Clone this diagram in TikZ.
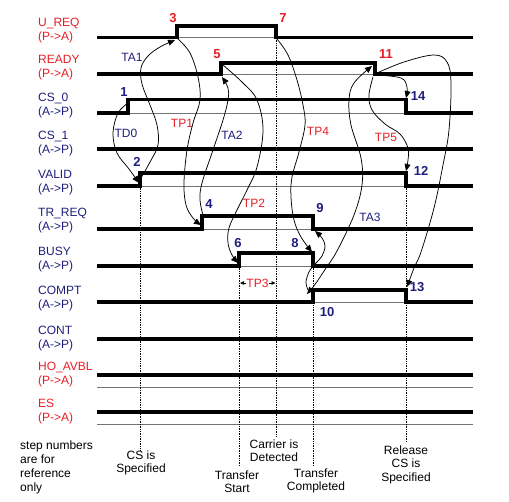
\documentclass[tikz,border=0pt]{standalone}
\usepackage{fontspec}
\setmainfont{Liberation Sans}
\usetikzlibrary{arrows.meta}
\definecolor{sigred}{RGB}{230,30,36}
\definecolor{navy}{RGB}{30,30,125}
\begin{document}
\begin{tikzpicture}[x=1pt,y=-1pt,
  sig/.style={line width=3.3pt, line join=miter, line cap=butt},
  base/.style={line width=0.9pt, black!55},
  guide/.style={line width=0.7pt, densely dotted},
  curve/.style={line width=0.75pt, -{Triangle[length=7pt,width=6pt]}},
  curvetwo/.style={line width=0.75pt, {Triangle[length=7pt,width=6pt]}-{Triangle[length=7pt,width=6pt]}},
  plain/.style={line width=0.75pt},
  small/.style={line width=0.6pt, -{Triangle[length=4pt,width=3.5pt]}},
  lbl/.style={font=\fontsize{12}{14}\selectfont, align=left, anchor=west, inner sep=0pt},
  pa/.style={lbl, text=sigred},
  ap/.style={lbl, text=navy},
  stepR/.style={font=\fontsize{13}{14}\selectfont\bfseries, text=sigred, inner sep=0pt},
  stepB/.style={font=\fontsize{13}{14}\selectfont\bfseries, text=navy, inner sep=0pt},
  tR/.style={font=\fontsize{12}{14}\selectfont, text=sigred, inner sep=0pt},
  tB/.style={font=\fontsize{12}{14}\selectfont, text=navy, inner sep=0pt},
  note/.style={font=\fontsize{12}{13.5}\selectfont, align=center, inner sep=0pt}
]
\useasboundingbox (0,0) rectangle (509,501);

% ---------- signal names ----------
\node[pa] (sUREQ) at (38,31) {U\_REQ\\(P->A)};
\node[pa] (sREADY) at (38,68) {READY\\(P->A)};
\node[ap] (sCS0) at (38,105.5) {CS\_0\\(A->P)};
\node[ap] (sCS1) at (38,144) {CS\_1\\(A->P)};
\node[ap] (sVALID) at (38,182.5) {VALID\\(A->P)};
\node[ap] (sTRREQ) at (38,220.5) {TR\_REQ\\(A->P)};
\node[ap] (sBUSY) at (38,260) {BUSY\\(A->P)};
\node[ap] (sCOMPT) at (38,299) {COMPT\\(A->P)};
\node[ap] (sCONT) at (38,338.5) {CONT\\(A->P)};
\node[pa] (sHO) at (38,374.5) {HO\_AVBL\\(P->A)};
\node[pa] (sES) at (38,412) {ES\\(P->A)};

% ---------- thin base lines inside pulses ----------
\draw[base] (177,37.5) -- (276,37.5);
\draw[base] (221,74) -- (375,74);
\draw[base] (128,113) -- (406,113);
\draw[base] (140,186) -- (406,186);
\draw[base] (202,229) -- (313,229);
\draw[base] (239,266) -- (313,266);
\draw[base] (313,302) -- (406,302);
\draw[base] (97,387) -- (473,387);
\draw[base] (97,424) -- (473,424);

% ---------- dotted guides ----------
\coordinate (g1a) at (140,186); \coordinate (g1b) at (140,451);
\coordinate (g2a) at (239,266); \coordinate (g2b) at (239,466);
\coordinate (g3a) at (276,38);  \coordinate (g3b) at (276,437);
\coordinate (g4a) at (313,266); \coordinate (g4b) at (313,465);
\coordinate (g5a) at (406,186); \coordinate (g5b) at (406,442);
\draw[guide] (g1a) -- (g1b);
\draw[guide] (g2a) -- (g2b);
\draw[guide] (g3a) -- (g3b);
\draw[guide] (g4a) -- (g4b);
\draw[guide] (g5a) -- (g5b);

% ---------- signal waveforms ----------
\draw[sig] (97,37.5) -- (177,37.5) -- (177,26) -- (276,26) -- (276,37.5) -- (473,37.5);
\draw[sig] (97,74) -- (221,74) -- (221,63) -- (375,63) -- (375,74) -- (473,74);
\draw[sig] (97,113) -- (128,113) -- (128,99.5) -- (406,99.5) -- (406,113) -- (473,113);
\draw[sig] (97,149) -- (473,149);
\draw[sig] (97,186) -- (140,186) -- (140,173) -- (406,173) -- (406,186) -- (473,186);
\draw[sig] (97,229) -- (202,229) -- (202,216) -- (313,216) -- (313,229) -- (473,229);
\draw[sig] (97,266) -- (239,266) -- (239,253) -- (313,253) -- (313,266) -- (473,266);
\draw[sig] (97,302) -- (313,302) -- (313,290) -- (406,290) -- (406,302) -- (473,302);
\draw[sig] (97,339) -- (473,339);
\draw[sig] (97,375) -- (473,375);
\draw[sig] (97,412) -- (473,412);

% ---------- step numbers ----------
\node[stepB] (n1) at (124,92) {1};
\node[stepB] (n2) at (137,162) {2};
\node[stepR] (n3) at (173,18) {3};
\node[stepB] (n4) at (209,204) {4};
\node[stepR] (n5) at (217,54) {5};
\node[stepB] (n6) at (238,243) {6};
\node[stepR] (n7) at (283,18) {7};
\node[stepB] (n8) at (295,243) {8};
\node[stepB] (n9) at (320,208) {9};
\node[stepB] (n10) at (327,312) {10};
\node[stepR] (n11) at (386,54) {11};
\node[stepB] (n12) at (421,171) {12};
\node[stepB] (n13) at (417,287) {13};
\node[stepB] (n14) at (418,96) {14};

% ---------- timing labels ----------
\node[tB] (TA1) at (132,57) {TA1};
\node[tB] (TD0) at (126,133) {TD0};
\node[tR] (TP1) at (182,123) {TP1};
\node[tB] (TA2) at (232,135) {TA2};
\node[tR] (TP2) at (254,203) {TP2};
\node[tR] (TP3) at (257.5,283) {TP3};
\node[tR] (TP4) at (318,131) {TP4};
\node[tR] (TP5) at (386,137) {TP5};
\node[tB] (TA3) at (370,217) {TA3};

% ---------- event points ----------
\coordinate (e1) at (128,103);
\coordinate (e2in) at (139,183);
\coordinate (e2out) at (141,178);
\coordinate (e3in) at (175,40);
\coordinate (e3out) at (178,39);
\coordinate (e4in) at (201,225);
\coordinate (e4out) at (203,215);
\coordinate (e5in) at (222,77);
\coordinate (e5out) at (223,65);
\coordinate (e6in) at (238,263);
\coordinate (e7out) at (277,39);
\coordinate (e8in) at (312,252);
\coordinate (e8out) at (314,265);
\coordinate (e9in) at (315,231);
\coordinate (e10end) at (308,290);
\coordinate (e10in) at (307,294);
\coordinate (e11in) at (372,66);
\coordinate (e11a) at (373,77);
\coordinate (e11b) at (377,75);
\coordinate (e11c) at (377,73);
\coordinate (e12in) at (406,171);
\coordinate (e13in) at (407,287);
\coordinate (e14in) at (406,98);

% ---------- causal curves ----------
% TD0: 1 -> 2
\draw[curve] plot[smooth, tension=0.6] coordinates {(e1) (118,113) (113,133) (117,153) (129,169) (e2in)};
% TA1: 2 -> 3
\draw[curve] plot[smooth, tension=0.6] coordinates {(e2out) (150,162) (158,145) (157,125) (150,105) (142,84) (141,68) (148,56) (160,47) (e3in)};
% TP1: 3 -> 4
\draw[curve] plot[smooth, tension=0.6] coordinates {(e3out) (190,53) (198,77) (200,100) (193,123) (187,150) (184,183) (186,205) (193,218) (e4in)};
% TA2: 4 -> 5
\draw[curve] plot[smooth, tension=0.6] coordinates {(e4out) (200,200) (202,183) (213,150) (223,120) (228,100) (228,88) (e5in)};
% TP2: 5 -> 6
\draw[curve] plot[smooth, tension=0.6] coordinates {(e5out) (243,83) (257,100) (263,130) (257,167) (247,190) (237,210) (229,228) (228,243) (232,255) (e6in)};
% TP4: 7 -> 8
\draw[curve] plot[smooth, tension=0.6] coordinates {(e7out) (288,55) (297,80) (303,105) (305,125) (299,152) (292,177) (291,197) (294,220) (301,237) (e8in)};
% 8 -> 9
\draw[curve] plot[smooth, tension=0.6] coordinates {(e8out) (322,256) (325,246) (322,238) (e9in)};
% 8 -> 10
\draw[plain] plot[smooth, tension=0.6] coordinates {(e8out) (309,272) (306,282) (e10end)};
% TA3: 10 <-> 11
\draw[curvetwo] plot[smooth, tension=0.6] coordinates {(e10in) (316,283) (326,268) (337,251) (354,215) (362,185) (361,158) (351,125) (349,100) (354,83) (e11in)};
% TP5: 11 -> 12
\draw[curve] plot[smooth, tension=0.6] coordinates {(e11a) (369,95) (372,110) (385,124) (400,134) (408,148) (408,160) (e12in)};
% 11 -> 14
\draw[curve] plot[smooth, tension=0.6] coordinates {(e11b) (401,78) (407,87) (e14in)};
% 11 -> 13
\draw[curve] plot[smooth, tension=0.6] coordinates {(e11c) (404,62) (434,55) (447,62) (451,83) (449,130) (443,165) (434,208) (421,252) (414,268) (e13in)};

% TP3 dimension arrows
\coordinate (tp3l) at (240,283);
\coordinate (tp3r) at (275.5,283);
\draw[small] (TP3.west) -- (tp3l);
\draw[small] (TP3.east) -- (tp3r);

% ---------- bottom notes ----------
\node[font=\fontsize{12}{14}\selectfont, align=left, anchor=west, inner sep=0pt] (stepnote) at (20,467) {step numbers\\are for\\reference\\only};
\node[note] (bCS) at (141,463) {CS is\\Specified};
\node[note] (bTS) at (237,481.5) {Transfer\\Start};
\node[note] (bCD) at (274,450.5) {Carrier is\\Detected};
\node[note] (bTC) at (316,481) {Transfer\\Completed};
\node[note] (bRel) at (406,464.5) {Release\\CS is\\Specified};
\end{tikzpicture}
\end{document}
